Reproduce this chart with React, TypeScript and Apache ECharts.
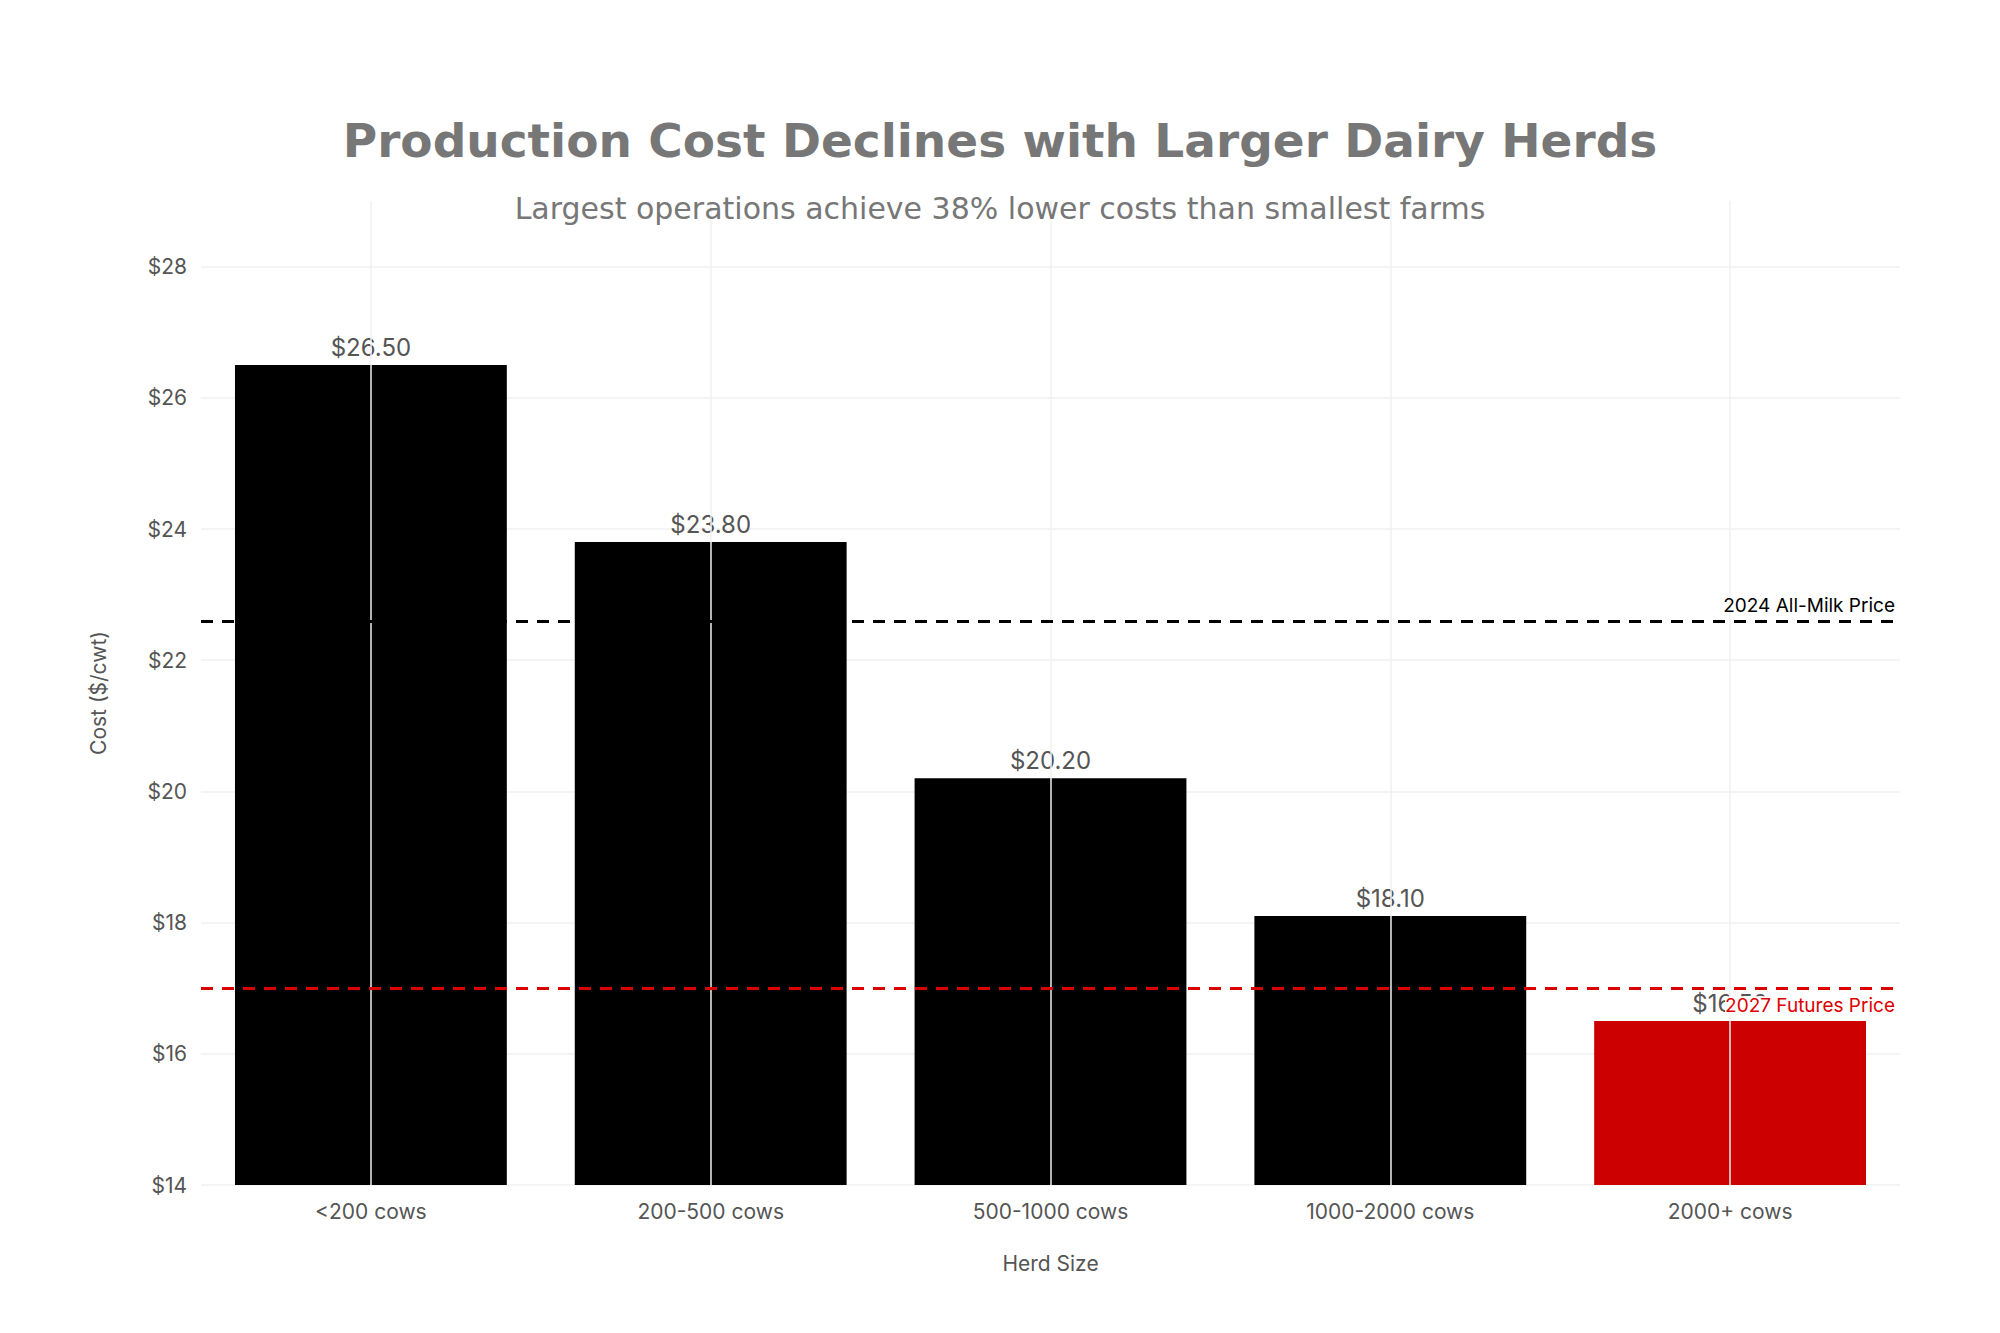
import React, { useEffect, useRef } from 'react';
import * as echarts from 'echarts';

const categories = ['<200 cows', '200-500 cows', '500-1000 cows', '1000-2000 cows', '2000+ cows'];
const costs = [26.5, 23.8, 20.2, 18.1, 16.5];
const barColors = ['#000000', '#000000', '#000000', '#000000', '#cc0000'];
const allMilkPrice = 22.6;
const futuresPrice = 17.0;

const App: React.FC = () => {
  const chartRef = useRef<HTMLDivElement>(null);

  useEffect(() => {
    if (!chartRef.current) return;
    const chart = echarts.init(chartRef.current, undefined, { renderer: 'svg' });
    const font = 'Inter, "Noto Sans", sans-serif';
    const grid = '#f0f0f0';
    chart.setOption({
      animation: false,
      backgroundColor: '#fff',
      title: [
        {
          text: 'Production Cost Declines with Larger Dairy Herds',
          left: 'center',
          top: 112,
          textStyle: { fontFamily: '"DejaVu Sans", sans-serif', fontWeight: 'bold', fontSize: 47, color: '#777' },
        },
        {
          text: 'Largest operations achieve 38% lower costs than smallest farms',
          left: 'center',
          top: 188,
          textStyle: { fontFamily: '"DejaVu Sans", sans-serif', fontWeight: 'normal', fontSize: 30, color: '#777' },
        },
      ],
      grid: { left: 201, right: 100, top: 201, bottom: 148 },
      xAxis: {
        type: 'category',
        data: categories,
        name: 'Herd Size',
        nameLocation: 'middle',
        nameGap: 68,
        nameTextStyle: { fontFamily: font, fontSize: 21, color: '#555' },
        axisLine: { show: false },
        axisTick: { show: false },
        axisLabel: { fontFamily: font, fontSize: 21, color: '#555', margin: 16 },
        splitLine: { show: false },
      },
      yAxis: {
        type: 'value',
        min: 14,
        max: 29,
        interval: 2,
        name: 'Cost ($/cwt)',
        nameLocation: 'middle',
        nameGap: 92,
        nameTextStyle: { fontFamily: font, fontSize: 21, color: '#555' },
        axisLine: { show: false },
        axisTick: { show: false },
        axisLabel: {
          fontFamily: font,
          fontSize: 21,
          color: '#555',
          margin: 14,
          showMaxLabel: false,
          formatter: (v: number) => (v % 2 === 0 ? '$' + v : ''),
        },
        splitLine: { lineStyle: { color: [grid, grid, grid, grid, grid, grid, grid, grid, '#ffffff'], width: 1.5 } },
      },
      series: [
        {
          type: 'line',
          data: [],
          z: 0,
          markLine: {
            silent: true,
            symbol: 'none',
            label: { show: false },
            lineStyle: { color: grid, type: 'solid', width: 1.5 },
            data: categories.map((c) => ({ xAxis: c })),
          },
        },
        {
          type: 'bar',
          z: 2,
          barCategoryGap: '20%',
          data: costs.map((v, i) => ({ value: v, itemStyle: { color: barColors[i] } })),
          label: {
            show: true,
            position: 'top',
            distance: 6,
            formatter: (p: any) => '$' + p.value.toFixed(2),
            fontFamily: font,
            fontSize: 24,
            color: '#555',
          },
          markLine: {
            silent: true,
            symbol: 'none',
            data: [
              {
                yAxis: allMilkPrice,
                lineStyle: { color: '#000', type: [12, 9], width: 3 },
                label: { formatter: '2024 All-Milk Price', position: 'insideEndTop', color: '#000', fontFamily: font, fontSize: 19, distance: [5, 6] },
              },
              {
                yAxis: futuresPrice,
                lineStyle: { color: '#dd0000', type: [12, 9], width: 3 },
                label: { formatter: '2027 Futures Price', position: 'insideEndBottom', color: '#dd0000', fontFamily: font, fontSize: 19, backgroundColor: '#fff', distance: [5, 8] },
              },
            ],
          },
        },
      ],
    });
    return () => chart.dispose();
  }, []);

  return <div ref={chartRef} style={{ position: 'absolute', left: 0, top: 0, width: 2000, height: 1333 }} />;
};

export default App;
